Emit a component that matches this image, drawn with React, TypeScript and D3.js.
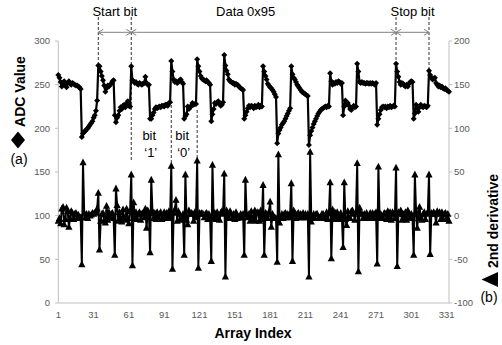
import React from 'react';
import * as d3 from 'd3';

// ADC samples (left axis), index 1..333
const adcValues: number[] = [
  261,258,253,248,250,254,250,247,252,254,
  251,250,252,251,250,249,249,248,247,245,
  190,194,196,197,199,200,202,204,206,208,
  212,215,220,232,272,271,265,260,255,249,
  242,246,249,248,250,251,254,255,215,207,
  212,215,220,224,222,226,227,224,228,231,
  226,225,271,255,254,252,253,251,250,252,
  251,250,251,252,259,252,250,250,211,211,
  215,218,222,224,223,224,225,224,226,226,
  225,227,227,226,229,230,277,265,256,253,
  254,252,253,255,256,253,251,211,214,216,
  225,222,224,226,229,227,228,228,279,271,
  265,260,257,256,255,254,255,253,252,250,
  208,216,222,229,228,230,231,228,226,227,
  230,284,272,266,262,256,254,253,252,252,
  250,251,250,249,247,246,245,244,211,215,
  219,223,226,224,226,225,223,226,224,225,
  227,224,226,225,271,265,260,256,251,249,
  247,246,244,242,239,236,183,194,198,201,
  204,206,208,211,214,217,220,223,271,262,
  258,256,253,250,248,246,244,242,241,240,
  239,238,237,181,192,197,201,205,208,211,
  214,217,219,221,222,223,224,225,224,226,
  225,263,254,250,252,251,253,252,254,253,
  251,252,215,225,232,228,229,226,222,221,
  224,226,224,225,274,265,253,252,253,252,
  252,251,252,252,251,252,251,252,251,250,
  252,204,211,216,221,224,225,224,225,223,
  225,224,226,224,225,226,225,274,265,259,
  253,250,252,251,249,248,250,248,251,253,
  254,253,211,217,227,223,219,224,227,225,
  224,226,225,224,226,266,261,258,256,257,
  258,252,250,248,249,247,248,246,245,246,
  244,243,242,
];

// 2nd derivative (right axis), index 1..333
const secondDerivative: number[] = [
  -6,-3,-9,8,10,-10,-4,9,5,-13,
  -3,5,3,-4,2,3,-3,1,-2,-2,
  -56,61,3,-2,2,-3,2,0,1,3,
  2,3,4,8,26,-39,-6,2,3,-5,
  -8,11,-5,4,-2,2,3,-3,-45,31,
  12,-6,4,-3,-7,7,-3,-5,8,-3,
  -9,5,47,-57,15,-3,4,-4,2,4,
  -5,2,3,-2,8,-14,6,3,-42,41,
  5,-3,3,-4,4,-2,2,4,-4,-2,
  4,-3,3,-2,5,-3,57,-61,3,7,
  18,-6,5,2,-3,-5,2,-45,47,-5,
  -10,6,2,3,2,-6,4,-2,63,-60,
  3,2,3,2,-2,2,3,-4,2,-3,
  -52,58,-3,3,-4,4,-3,-5,3,5,
  2,48,-70,6,3,-3,5,2,-3,2,
  -4,4,-3,-2,-2,2,-2,2,-45,41,
  2,-2,2,-6,5,-4,-2,6,-6,4,
  3,-6,6,-4,35,-45,3,2,-3,4,
  16,-13,2,-3,-2,-3,-53,70,-8,-3,
  2,-3,2,3,-2,2,-2,2,37,-52,
  6,3,-3,2,3,-2,2,-2,3,-2,
  2,-2,2,-70,73,-7,-3,2,-3,2,
  2,-3,-2,-3,2,2,-2,-3,4,-4,
  3,38,-49,7,-4,4,-4,4,-4,-2,
  3,-3,-36,38,-4,-11,5,-3,-3,5,
  6,2,-5,4,60,-64,9,3,2,-3,
  2,-3,3,-2,-2,3,-3,3,-3,2,
  4,-55,56,-3,2,-3,-3,3,2,-4,
  5,-4,4,-5,4,2,-3,55,-58,4,
  2,6,-5,2,-3,4,-5,6,2,-2,
  2,-3,-45,47,5,-14,2,10,-3,-5,
  2,4,-4,2,4,47,-44,3,2,4,
  2,-8,5,2,4,-4,4,-4,2,3,
  -4,2,-6,
];

const leftTicks = [0, 50, 100, 150, 200, 250, 300];
const rightTicks = [-100, -50, 0, 50, 100, 150, 200];
const xTickLabels = [1, 31, 61, 91, 121, 151, 181, 211, 241, 271, 301, 331];

// frame annotations (sample indices)
const frameSegments = [
  { label: 'Start bit', from: 35, to: 63 },
  { label: 'Data 0x95', from: 63, to: 288 },
  { label: 'Stop bit', from: 288, to: 316 },
];
const bitLabels = [
  { line1: 'bit', line2: '\u20181\u2019', from: 63, to: 97 },
  { line1: 'bit', line2: '\u20180\u2019', from: 97, to: 119 },
];

const W = 502;
const H = 345;
const FONT = '"Liberation Sans", Arial, Helvetica, sans-serif';

export default function App() {
  const n = adcValues.length;
  const x = d3.scaleLinear().domain([1, n]).range([58.3, 449]);
  const yL = d3.scaleLinear().domain([0, 300]).range([303, 41]);
  const yR = d3.scaleLinear().domain([-100, 200]).range([303, 41]);

  const adcLine = d3
    .line<number>()
    .x((_, i) => x(i + 1))
    .y((d) => yL(d));
  const derLine = d3
    .line<number>()
    .x((_, i) => x(i + 1))
    .y((d) => yR(d));

  const axisColor = '#bfbfbf';
  const tickColor = '#595959';
  const arrowY = 32.3;
  const ds = 3; // diamond half size
  const diamond = `M0,${-ds}L${ds},0L0,${ds}L${-ds},0Z`;
  const tri = 'M0,-4L3.6,2.8L-3.6,2.8Z';

  const chevron = (tx: number, dir: number) =>
    `M${tx + dir * -5},${arrowY - 3}L${tx},${arrowY}L${tx + dir * -5},${arrowY + 3}`;

  return (
    <svg
      width={W}
      height={H}
      style={{ position: 'absolute', left: 0, top: 0, background: '#fff' }}
      fontFamily={FONT}
    >
      <rect width={W} height={H} fill="#fff" />

      {/* axes */}
      <line x1={58.3} x2={58.3} y1={41} y2={303} stroke={axisColor} />
      <line x1={449} x2={449} y1={41} y2={303} stroke={axisColor} />
      <line x1={58.3} x2={449} y1={303} y2={303} stroke={axisColor} />
      {leftTicks.map((t) => (
        <g key={'l' + t}>
          <line x1={55} x2={58.3} y1={yL(t)} y2={yL(t)} stroke={axisColor} />
          <text x={50} y={yL(t) + 3.3} fontSize={9.5} fill={tickColor} textAnchor="end">
            {t}
          </text>
        </g>
      ))}
      {rightTicks.map((t) => (
        <g key={'r' + t}>
          <line x1={449} x2={452.3} y1={yR(t)} y2={yR(t)} stroke={axisColor} />
          <text x={454} y={yR(t) + 3.3} fontSize={9.5} fill={tickColor} textAnchor="start">
            {t}
          </text>
        </g>
      ))}
      {xTickLabels.map((t) => (
        <text key={'x' + t} x={x(t)} y={317.5} fontSize={9.5} fill={tickColor} textAnchor="middle">
          {t}
        </text>
      ))}

      {/* dashed marker lines */}
      {[frameSegments[0].from, frameSegments[2].from, frameSegments[2].to].map((idx) => (
        <line
          key={'dl' + idx}
          x1={x(idx)}
          x2={x(idx)}
          y1={17}
          y2={yL(adcValues[idx - 1]) - 1}
          stroke="#333"
          strokeDasharray="3,2"
        />
      ))}
      <line x1={x(63)} x2={x(63)} y1={17} y2={160} stroke="#333" strokeDasharray="3,2" />
      <line x1={x(97)} x2={x(97)} y1={105} y2={172} stroke="#333" strokeDasharray="3,2" />
      <line x1={x(119)} x2={x(119)} y1={110} y2={165} stroke="#333" strokeDasharray="3,2" />

      {/* frame arrows */}
      {frameSegments.map((s) => (
        <g key={s.label} stroke="#808080" fill="none" strokeWidth={1}>
          <line x1={x(s.from)} x2={x(s.to)} y1={arrowY} y2={arrowY} />
          <path d={chevron(x(s.from), -1)} />
          <path d={chevron(x(s.to), 1)} />
        </g>
      ))}
      {frameSegments.map((s) => (
        <text
          key={'t' + s.label}
          x={(x(s.from) + x(s.to)) / 2 + (s.label === 'Data 0x95' ? -18 : 0)}
          y={15.5}
          fontSize={13}
          fill="#000"
          textAnchor="middle"
        >
          {s.label}
        </text>
      ))}

      {/* 2nd derivative series */}
      <path d={derLine(secondDerivative) || ''} fill="none" stroke="#000" strokeWidth={2} strokeLinejoin="round" />
      {secondDerivative.map((d, i) => (
        <path key={'tr' + i} d={tri} transform={`translate(${x(i + 1)},${yR(d)})`} fill="#000" />
      ))}

      {/* ADC series */}
      <path d={adcLine(adcValues) || ''} fill="none" stroke="#000" strokeWidth={2.2} strokeLinejoin="round" />
      {adcValues.map((d, i) => (
        <path key={'dm' + i} d={diamond} transform={`translate(${x(i + 1)},${yL(d)})`} fill="#000" />
      ))}

      {/* bit labels */}
      {bitLabels.map((b) => {
        const cx = (x(b.from) + x(b.to)) / 2 - 2;
        return (
          <g key={b.line2}>
            <text x={cx} y={140} fontSize={13} textAnchor="middle" fill="#000">
              {b.line1}
            </text>
            <text x={cx + 1.5} y={157} fontSize={13} textAnchor="middle" fill="#000">
              {b.line2}
            </text>
          </g>
        );
      })}

      {/* axis titles */}
      <text x={253} y={338} fontSize={14} fontWeight="bold" textAnchor="middle" fill="#000">
        Array Index
      </text>
      <text
        transform="translate(24.5,91.5) rotate(-90)"
        fontSize={14}
        fontWeight="bold"
        textAnchor="middle"
        fill="#000"
      >
        ADC Value
      </text>
      <path d="M18,131.5L25,140L18,148.5L11,140Z" fill="#000" />
      <text x={19} y={164} fontSize={14} textAnchor="middle" fill="#000">
        (a)
      </text>

      <text
        transform="translate(497.5,221) rotate(-90)"
        fontSize={14}
        fontWeight="bold"
        textAnchor="middle"
        fill="#000"
      >
        2nd derivative
      </text>
      <path d="M481.5,279.5L498,272L498,287Z" fill="#000" />
      <text x={489} y={302} fontSize={14} textAnchor="middle" fill="#000">
        (b)
      </text>
    </svg>
  );
}
